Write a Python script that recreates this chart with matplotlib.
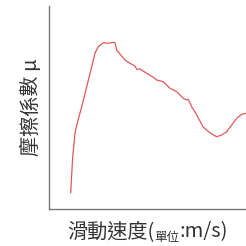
import matplotlib
matplotlib.use("Agg")
import matplotlib.pyplot as plt
from matplotlib.transforms import offset_copy

plt.rcParams['font.family'] = ['Noto Sans CJK TC', 'DejaVu Sans']

# 滑動速度 與 摩擦係數 (無刻度, 相對值)
speed = [21.7, 23.7, 26.0, 28.3, 32.7, 37.7, 42.7, 46.0, 49.3, 54.3, 59.3,
         64.3, 66.0, 67.7, 71.0, 76.0, 81.0, 86.0, 87.7, 91.0, 97.7, 104.3,
         107.7, 114.3, 121.0, 127.7, 134.3, 137.7, 139.3, 142.7, 147.7, 154.3,
         157.7, 162.7, 167.7, 172.7, 177.7, 182.7, 187.7, 192.7, 197.0]
mu = [16.3, 52.3, 76.0, 86.0, 102.3, 122.3, 142.3, 156.0, 162.3, 166.3, 165.7,
      166.7, 166.3, 159.0, 155.0, 149.0, 145.7, 143.0, 139.7, 140.0, 135.7, 131.7,
      129.0, 127.3, 120.7, 117.3, 110.7, 109.0, 109.7, 102.3, 94.0, 81.7,
      79.0, 75.0, 72.3, 74.0, 77.3, 84.0, 90.7, 94.7, 95.7]

fig = plt.figure(figsize=(2.46, 2.46), dpi=100)
ax = fig.add_axes([49 / 246, 37 / 246, 197 / 246, 203 / 246])
ax.plot(speed, mu, color='#e0585c', lw=0.9)
ax.set_xlim(0, 197)
ax.set_ylim(0, 203)
ax.set_xticks([])
ax.set_yticks([])
for s in ['top', 'right']:
    ax.spines[s].set_visible(False)
for s in ['left', 'bottom']:
    ax.spines[s].set_color('#777777')
    ax.spines[s].set_linewidth(1.0)

ax.set_ylabel('摩擦係數 μ', fontsize=14.5, color='#333333', labelpad=5)

# x label with small subscript part
parts = [('滑動速度(', 14.5, 0), ('單位', 9, -4), (':m/s)', 14.5, 0)]
fig.canvas.draw()
renderer = fig.canvas.get_renderer()
x0 = 67 / 246
y0 = 1 - 237 / 246
trans = fig.transFigure
dx = 0
for txt, size, dy in parts:
    t = fig.text(x0, y0, txt, fontsize=size, color='#333333', va='baseline',
                 transform=offset_copy(trans, fig=fig, x=dx, y=dy, units='dots'))
    bb = t.get_window_extent(renderer)
    dx += bb.width

fig.savefig('out.png', dpi=100)
